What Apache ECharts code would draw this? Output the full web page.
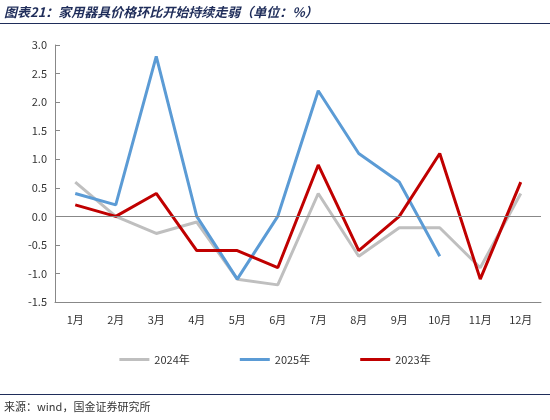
<!DOCTYPE html>
<html>
<head>
<meta charset="utf-8">
<script src="https://cdn.jsdelivr.net/npm/echarts@6/dist/echarts.min.js"></script>
<style>
body { margin: 0; background: #fff; }
#main { width: 550px; height: 420px; }
.t { position: absolute; left: 4px; top: 2px; font: italic bold 13px "Noto Sans CJK SC"; color: #1f2d5a; }
.src { position: absolute; left: 4px; top: 398px; font: 11px "Noto Sans CJK SC"; color: #333; }
.ln { position: absolute; left: 0; width: 550px; border-top: 1px solid #1f2d5a; }
</style>
</head>
<body>
<div id="main"></div>
<div class="t">图表21：家用器具价格环比开始持续走弱（单位：%）</div>
<div class="ln" style="top:23px"></div>
<div class="ln" style="top:394px"></div>
<div class="src">来源：wind，国金证券研究所</div>
<script>
var months = ['1月', '2月', '3月', '4月', '5月', '6月', '7月', '8月', '9月', '10月', '11月', '12月'];
var y2024 = [0.6, 0.0, -0.3, -0.1, -1.1, -1.2, 0.4, -0.7, -0.2, -0.2, -0.9, 0.4];
var y2025 = [0.4, 0.2, 2.8, 0.0, -1.1, 0.0, 2.2, 1.1, 0.6, -0.7];
var y2023 = [0.2, 0.0, 0.4, -0.6, -0.6, -0.9, 0.9, -0.6, 0.0, 1.1, -1.1, 0.6];

function draw() {
    var myChart = echarts.init(document.getElementById('main'));
    var font = { fontFamily: 'Noto Sans CJK SC', fontSize: 11, color: '#333' };
    var option = {
        animation: false,
        grid: { left: 55, right: 9, top: 45, bottom: 118 },
        legend: {
            bottom: 50, itemWidth: 30, itemHeight: 3, itemGap: 50, icon: 'rect',
            textStyle: font,
            data: ['2024年', '2025年', '2023年']
        },
        xAxis: {
            type: 'category', data: months,
            axisLine: { onZero: false, lineStyle: { color: '#888' } },
            axisTick: { show: false },
            axisLabel: Object.assign({ margin: 12 }, font)
        },
        yAxis: {
            type: 'value', min: -1.5, max: 3.0, interval: 0.5,
            splitLine: { show: false },
            axisLine: { show: true, lineStyle: { color: '#888' } },
            axisTick: { show: true, inside: true },
            axisLabel: Object.assign({ formatter: function (v) { return v.toFixed(1); } }, font)
        },
        series: [
            { name: '2024年', type: 'line', data: y2024, symbol: 'none', lineStyle: { width: 3, color: '#BFBFBF' }, itemStyle: { color: '#BFBFBF' } },
            { name: '2025年', type: 'line', data: y2025, symbol: 'none', lineStyle: { width: 3, color: '#5B9BD5' }, itemStyle: { color: '#5B9BD5' } },
            { name: '2023年', type: 'line', data: y2023, symbol: 'none', lineStyle: { width: 3, color: '#C00000' }, itemStyle: { color: '#C00000' } },
            { type: 'line', data: [], markLine: { silent: true, symbol: 'none', label: { show: false }, lineStyle: { color: '#888', type: 'solid', width: 1 }, data: [{ yAxis: 0 }] } }
        ]
    };
    myChart.setOption(option);
}
draw();
</script>
</body>
</html>
